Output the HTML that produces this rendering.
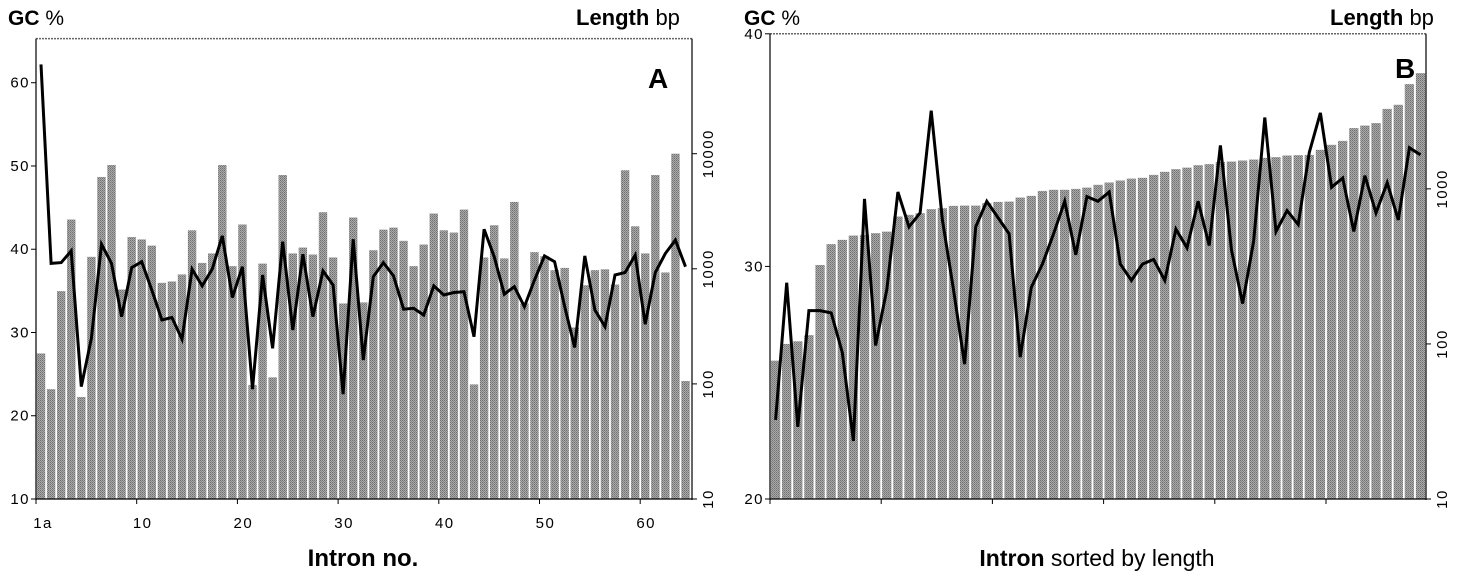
<!DOCTYPE html>
<html><head><meta charset="utf-8"><style>
body{margin:0;background:#fff;}
svg{display:block;font-family:"Liberation Sans Narrow","Liberation Sans",sans-serif;}
</style></head><body>
<svg id="chart" width="1458" height="576" viewBox="0 0 1458 576" xmlns="http://www.w3.org/2000/svg">
<defs>
<pattern id="dots" width="2" height="2" patternUnits="userSpaceOnUse">
<rect width="2" height="2" fill="#aaaaaa"/><rect width="1" height="1" fill="#707070"/><rect x="1" y="1" width="1" height="1" fill="#858585"/>
</pattern>
</defs>
<g id="panelA"></g>
<g id="panelB"></g>
<text x="8" y="25" font-size="21"><tspan font-weight="bold" font-family="Liberation Sans">GC</tspan> %</text>
<text x="576" y="25" font-size="22"><tspan font-weight="bold" font-family="Liberation Sans">Length</tspan> bp</text>
<text x="744" y="25" font-size="21"><tspan font-weight="bold" font-family="Liberation Sans">GC</tspan> %</text>
<text x="1330" y="25" font-size="22"><tspan font-weight="bold" font-family="Liberation Sans">Length</tspan> bp</text>
<text x="648" y="88" font-size="28" font-weight="bold" font-family="Liberation Sans">A</text>
<text x="1395" y="78" font-size="28" font-weight="bold" font-family="Liberation Sans">B</text>
<text x="363" y="566" font-size="24" font-weight="bold" text-anchor="middle">Intron no.</text>
<text x="1097" y="566" font-size="23" text-anchor="middle"><tspan font-weight="bold">Intron</tspan> sorted by length</text>
</svg>
<script>
const lenA=[184,90,640,2680,77,1270,6280,7980,661,1890,1800,1590,755,776,893,2160,1125,1360,7980,1054,2425,98,1110,114,6530,1360,1530,1330,3100,1255,500,2790,510,1450,2190,2280,1750,1054,1625,3020,2160,2065,3270,99,1255,2390,1230,3810,500,1395,1285,973,1018,309,720,973,990,730,7180,2340,1360,6530,929,10000,106];
const gcA=[62.2,38.3,38.4,39.8,23.5,29.3,40.6,38.3,31.9,37.8,38.5,35.1,31.5,31.8,29.2,37.6,35.6,37.6,41.6,34.2,37.9,23.2,36.9,28.1,40.9,30.3,39.4,31.9,37.4,35.7,22.6,41.2,26.7,36.7,38.4,36.8,32.8,32.9,32.1,35.6,34.5,34.8,34.9,29.5,42.4,39.1,34.6,35.5,33.1,36.3,39.2,38.5,33.1,28.2,39.2,32.7,30.7,36.9,37.2,39.3,31.0,37.2,39.5,41.1,37.9];
const gcTicksA=[10,20,30,40,50,60];
const lenTicksA=[10,100,1000,10000];
const xLabelsA=["1a","10","20","30","40","50","60"];
const lenB=[78,100,104,114,323,440,469,500,505,518,530,663,680,697,740,750,777,780,780,809,824,828,879,901,970,986,986,1000,1019,1062,1099,1132,1165,1178,1231,1288,1340,1371,1421,1443,1487,1500,1523,1546,1585,1602,1641,1650,1655,1785,1923,2040,2465,2560,2655,3280,3485,4735,5575];
const gcB=[23.4,29.3,23.1,28.1,28.1,28.0,26.3,22.5,32.9,26.6,29.0,33.2,31.7,32.3,36.7,32.0,29.0,25.8,31.7,32.8,32.1,31.4,26.1,29.1,30.1,31.4,32.8,30.5,33.0,32.8,33.2,30.1,29.4,30.1,30.3,29.4,31.6,30.8,32.8,30.9,35.2,30.7,28.4,31.1,36.4,31.5,32.4,31.8,34.9,36.6,33.4,33.8,31.5,33.9,32.3,33.6,32.0,35.1,34.8];
const gcTicksB=[20,30,40];
const lenTicksB=[10,100,1000];

const NS="http://www.w3.org/2000/svg";
function mk(parent,tag,attrs){const e=document.createElementNS(NS,tag);for(const k in attrs)e.setAttribute(k,attrs[k]);parent.appendChild(e);return e;}

function panel(g,cfg,lens,gcs,gcTicks,lenTicks,xLabels){
  const {x0,x1,y0,y1,gcMin,gcMax,lMin,lMax,slot,bw}=cfg;
  const yGC=v=>y1-(v-gcMin)/(gcMax-gcMin)*(y1-y0);
  const yLen=v=>y1-(Math.log10(v)-Math.log10(lMin))/(Math.log10(lMax)-Math.log10(lMin))*(y1-y0);
  const xc=i=>x0+(i+0.5)*slot;
  lens.forEach((v,i)=>{
    const y=yLen(v);
    const r=mk(g,'rect',{x:xc(i)-bw/2,y:y,width:bw,height:y1-y,fill:'url(#dots)'});
    
    
  });
  const pts=gcs.map((v,i)=>xc(i).toFixed(1)+','+yGC(v).toFixed(1)).join(' ');
  const pl=mk(g,'polyline',{points:pts,fill:'none',stroke:'#000','stroke-width':3,'stroke-linejoin':'miter'});
  
  
  const top=mk(g,'line',{x1:x0,y1:y0,x2:x1,y2:y0,stroke:'#666','stroke-width':1.5,'stroke-dasharray':'2,1'});
  
  
  const la=mk(g,'line',{x1:x0,y1:y0,x2:x0,y2:y1+1,stroke:'#000','stroke-width':1.2});
  
  
  const ra=mk(g,'line',{x1:x1,y1:y0,x2:x1,y2:y1+1,stroke:'#000','stroke-width':1.2});
  
  
  const ba=mk(g,'line',{x1:x0,y1:y1,x2:x1,y2:y1,stroke:'#000','stroke-width':1.2});
  
  
  gcTicks.forEach(v=>{
    const y=yGC(v);
    const t=mk(g,'line',{x1:x0-5,y1:y,x2:x0,y2:y,stroke:'#000'});
    
    
    const tx=mk(g,'text',{x:x0-6,y:y+5,'font-size':15,'text-anchor':'end','letter-spacing':'1.5'});
    tx.textContent=v;
    
    
  });
  lenTicks.forEach(v=>{
    const y=yLen(v);
    const t=mk(g,'line',{x1:x1,y1:y,x2:x1+5,y2:y,stroke:'#000'});
    
    
    const tx=mk(g,'text',{x:0,y:0,'font-size':15,'text-anchor':'middle','letter-spacing':'1.5',transform:'translate('+(x1+21)+','+y+') rotate(-90)'});
    tx.textContent=v;
    
    
  });
  const nT=Math.floor(lens.length/10);
  for(let k=0;k<=nT;k++){
    const x=x0+k*10*slot;
    const t=mk(g,'line',{x1:x,y1:y1,x2:x,y2:y1+5,stroke:'#000'});
    
    
    if(xLabels&&xLabels[k]!==undefined){
      const tx=mk(g,'text',{x:k===0?xc(0)+2:x+6,y:528,'font-size':15,'text-anchor':'middle','letter-spacing':'1.5'});
      tx.textContent=xLabels[k];
      
      
    }
  }
}
panel(document.getElementById('panelA'),{x0:36,x1:692,y0:38.6,y1:499,gcMin:10,gcMax:65.3,lMin:10,lMax:100000,slot:10.07,bw:8.4},lenA,gcA,gcTicksA,lenTicksA,xLabelsA);
panel(document.getElementById('panelB'),{x0:770,x1:1426,y0:33.8,y1:499,gcMin:20,gcMax:40,lMin:10,lMax:10000,slot:11.12,bw:9.3},lenB,gcB,gcTicksB,lenTicksB,null);
</script>
</body></html>
